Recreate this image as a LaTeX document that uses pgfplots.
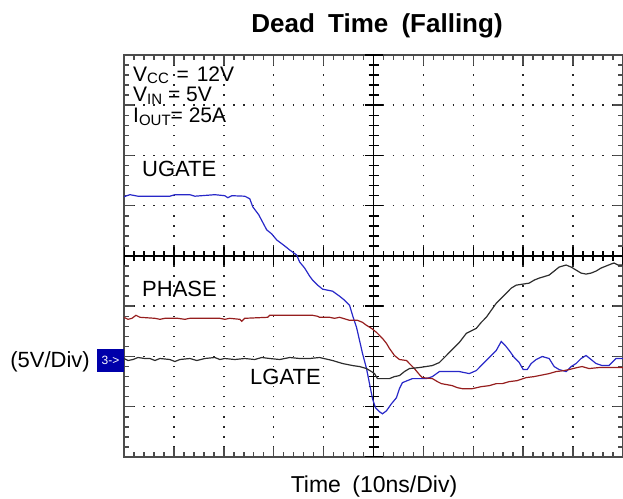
\documentclass[border=0pt]{standalone}
\usepackage{fontspec}
\setmainfont{Liberation Sans}
\usepackage{pgfplots}
\pgfplotsset{compat=1.18}
\definecolor{ublue}{RGB}{40,40,200}
\definecolor{pred}{RGB}{150,30,30}
\definecolor{lgray}{RGB}{45,45,45}
\definecolor{boxblue}{RGB}{0,0,170}
\begin{document}
\begin{tikzpicture}
\begin{axis}[at={(124bp,42bp)}, anchor=south west, scale only axis,
  width=499bp, height=402bp, xmin=-50, xmax=50, ymin=-20, ymax=20,
  xtick={-50,-40,...,50}, ytick={-20,-15,...,20}, xticklabels={}, yticklabels={},
  minor xtick={-50,-48,...,50}, minor ytick={-20,-19,...,20},
  axis line style={draw=black!70, line width=1.6bp},
  tick align=inside, major tick length=10bp, minor tick length=5bp,
  major tick style={black!70, line width=1.5bp},
  minor tick style={black!70, line width=1.5bp},
  grid=major,
  major x grid style={draw=black!85, line width=1.5bp, dash pattern=on 1.5bp off 8.55bp, dash phase=0.75bp},
  major y grid style={draw=black!85, line width=1.5bp, dash pattern=on 1.5bp off 8.48bp, dash phase=0.75bp}]
% centre crosshair with its ticks
\draw[black, line width=1.8bp] (axis cs:0,-20) -- (axis cs:0,20);
\draw[black, line width=1.8bp] (axis cs:-50,0) -- (axis cs:50,0);
\pgfplotsinvokeforeach{-20,-19,...,20}{\draw[black, line width=1.5bp] ([xshift=-5bp]axis cs:0,#1) -- ([xshift=5bp]axis cs:0,#1);}
\pgfplotsinvokeforeach{-20,-15,...,20}{\draw[black, line width=1.5bp] ([xshift=-9bp]axis cs:0,#1) -- ([xshift=9bp]axis cs:0,#1);}
\pgfplotsinvokeforeach{-50,-48,...,50}{\draw[black, line width=1.5bp] ([yshift=-5bp]axis cs:#1,0) -- ([yshift=5bp]axis cs:#1,0);}
\pgfplotsinvokeforeach{-50,-40,...,50}{\draw[black, line width=1.5bp] ([yshift=-9bp]axis cs:#1,0) -- ([yshift=9bp]axis cs:#1,0);}
% UGATE
\addplot[ublue, line width=1.2bp] coordinates {
(-50,5.9) (-48.8,6.1) (-47.2,5.95) (-40.8,5.95) (-39.8,6.1) (-36.8,6.1) (-35.8,5.95) (-31.8,6.1) (-29.8,6.0) (-29.2,5.8) (-28.4,6.0) (-25.8,5.95) (-24.8,5.7) (-24.2,4.9) (-23,4.1) (-21.4,2.6) (-20.4,2.2) (-19.4,1.6) (-17.8,1.0) (-16.8,0.6) (-15.4,0.1) (-14.8,-0.6) (-13.8,-1.2) (-12.8,-2.0) (-12.2,-2.4) (-11.2,-2.9) (-10.2,-3.3) (-8.2,-3.5) (-6.8,-4.0) (-5.8,-4.4) (-4.8,-4.9) (-4.2,-5.9) (-3.4,-7.1) (-2.8,-8.4) (-2.2,-9.7) (-1.4,-11.2) (-0.8,-12.7) (-0.2,-14.2) (0.4,-15.1) (1.2,-15.5) (1.8,-15.7) (2.6,-15.4) (3.6,-14.7) (4.6,-14.1) (5.2,-13.2) (5.8,-12.6) (6.8,-12.4) (7.8,-12.2) (10.6,-12.2) (11.8,-12.0) (13.2,-11.5) (17.2,-11.5) (19.2,-11.7) (20.6,-11.4) (21.8,-10.8) (23.2,-10.1) (24.6,-9.4) (25.6,-8.5) (26.4,-8.9) (27.2,-9.4) (28.2,-10.1) (29.2,-10.6) (30,-11.3) (30.8,-11.3) (31.6,-10.7) (32.6,-10.3) (33.8,-10.0) (35.2,-10.2) (36.2,-11.0) (37.2,-11.3) (38.6,-11.5) (39.6,-11.0) (40.6,-10.7) (41.6,-10.2) (42.6,-9.9) (43.6,-10.3) (44.6,-10.7) (45.8,-10.9) (47.2,-10.9) (48.6,-10.2) (50,-10.2)
};
% PHASE
\addplot[pred, line width=1.2bp] coordinates {
(-50,-6.1) (-49.2,-6.3) (-48.4,-6.2) (-47.6,-5.9) (-46.8,-6.1) (-43.8,-6.2) (-42.8,-6.3) (-41.8,-6.2) (-39.2,-6.2) (-37.8,-6.3) (-36.8,-6.2) (-30.8,-6.2) (-29.8,-6.3) (-28.8,-6.2) (-26.8,-6.3) (-26.4,-6.5) (-25.8,-6.2) (-21.2,-6.1) (-20.8,-5.9) (-12.2,-5.9) (-11.2,-6.0) (-10.8,-6.1) (-8.8,-6.1) (-7.8,-6.2) (-6.8,-6.1) (-4.8,-6.4) (-3.2,-6.4) (-2.2,-6.6) (-1.4,-6.9) (-0.4,-7.2) (0.6,-7.6) (1.8,-8.2) (2.6,-8.7) (3.2,-9.2) (4.2,-9.9) (5.2,-10.3) (6.6,-10.4) (7.4,-10.8) (8.2,-11.2) (9.2,-11.8) (9.8,-12.1) (11.8,-12.2) (12.8,-12.5) (13.6,-12.7) (15.8,-12.9) (16.8,-13.1) (17.8,-13.2) (19.8,-13.2) (21.6,-13.0) (23.2,-12.9) (24.6,-12.7) (25.8,-12.7) (27.2,-12.5) (28.8,-12.4) (30.6,-12.1) (32.2,-12.0) (33.2,-11.9) (35.2,-11.7) (36.6,-11.5) (38.2,-11.4) (39.2,-11.3) (40.8,-11.1) (41.8,-11.0) (43.2,-11.2) (45.2,-11.1) (50,-11.1)
};
% LGATE
\addplot[lgray, line width=1.2bp] coordinates {
(-50,-10.2) (-49.2,-10.4) (-48.2,-10.3) (-47.2,-10.1) (-45.8,-10.2) (-44.8,-10.2) (-43.8,-10.4) (-42.8,-10.2) (-40.8,-10.3) (-39.8,-10.5) (-38.8,-10.3) (-36.8,-10.2) (-35.4,-10.4) (-33.8,-10.2) (-31.8,-10.1) (-30.8,-10.3) (-29.8,-10.2) (-27.8,-10.3) (-25.8,-10.2) (-23.8,-10.3) (-22.4,-10.1) (-20.8,-10.2) (-18.8,-10.3) (-16.8,-10.1) (-14.8,-10.2) (-12.8,-10.2) (-10.8,-10.1) (-8.2,-10.4) (-6.2,-10.7) (-4.2,-10.9) (-2.8,-11.0) (-1.4,-11.2) (-0.4,-11.5) (0.2,-11.7) (0.8,-12.2) (3.2,-12.2) (4.2,-12.0) (5.2,-11.9) (6.2,-11.5) (7.2,-11.2) (9.2,-11.1) (11.8,-10.9) (13.2,-10.6) (14.2,-10.1) (15.2,-9.6) (16.2,-9.1) (17.2,-8.6) (18.6,-7.7) (20.6,-7.2) (21.6,-6.6) (22.6,-6.1) (23.6,-5.4) (24.6,-4.7) (25.6,-4.2) (26.6,-3.7) (27.6,-3.2) (28.6,-2.9) (31.2,-2.7) (32.2,-2.4) (33.2,-2.2) (35.2,-1.9) (36.2,-1.5) (37.2,-1.1) (38.6,-0.9) (39.6,-1.1) (40.6,-1.4) (41.6,-1.7) (42.6,-1.8) (43.6,-1.7) (44.6,-1.5) (45.6,-1.2) (46.6,-1.0) (47.6,-0.8) (48.2,-0.7) (49,-0.9) (50,-0.9)
};
\end{axis}
% texts
\node[anchor=base, inner sep=0, font=\fontsize{26bp}{26bp}\selectfont\bfseries] at (377bp,466bp) {Dead\hspace{6bp} Time\hspace{6bp} (Falling)};
\node[anchor=base, inner sep=0, font=\fontsize{23bp}{23bp}\selectfont] at (374bp,7bp) {Time\hspace{5bp} (10ns/Div)};
\node[anchor=base east, inner sep=0, font=\fontsize{22bp}{22bp}\selectfont] at (90bp,131bp) {(5V/Div)};
\fill[boxblue] (97bp,127bp) rectangle (124bp,150bp);
\node[inner sep=0, text=white, font=\fontsize{12bp}{12bp}\selectfont] at (110.5bp,138.5bp) {3->};
\node[anchor=base west, inner sep=0, font=\fontsize{21bp}{21bp}\selectfont] at (133bp,417.5bp) {V\raisebox{-2.5bp}{\fontsize{15bp}{15bp}\selectfont CC}\hspace{2bp} =\hspace{2bp} 12V};
\node[anchor=base west, inner sep=0, font=\fontsize{21bp}{21bp}\selectfont] at (133bp,397bp) {V\raisebox{-2.5bp}{\fontsize{15bp}{15bp}\selectfont IN} = 5V};
\node[anchor=base west, inner sep=0, font=\fontsize{21bp}{21bp}\selectfont] at (133bp,376bp) {I\raisebox{-2.5bp}{\fontsize{15bp}{15bp}\selectfont OUT}= 25A};
\node[anchor=base west, inner sep=0, font=\fontsize{22bp}{22bp}\selectfont] at (142bp,322bp) {UGATE};
\node[anchor=base west, inner sep=0, font=\fontsize{22bp}{22bp}\selectfont] at (142bp,202bp) {PHASE};
\node[anchor=base west, inner sep=0, font=\fontsize{22bp}{22bp}\selectfont] at (250bp,114bp) {LGATE};
\pgfresetboundingbox
\path[use as bounding box] (0,0) rectangle (623bp,499bp);
\end{tikzpicture}
\end{document}
